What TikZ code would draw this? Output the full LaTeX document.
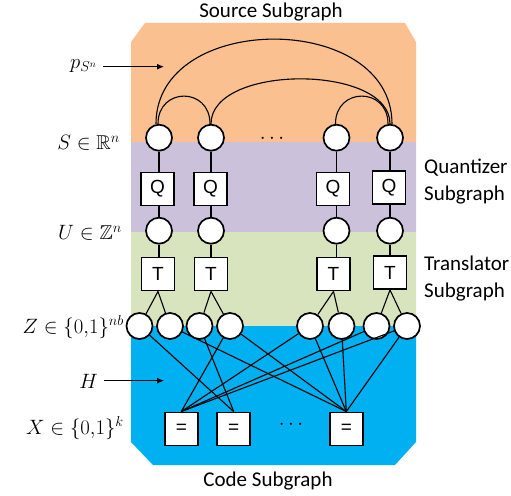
\documentclass[tikz,border=0pt]{standalone}
\usepackage{amssymb}
\usepackage{fontspec}
\setmainfont{Carlito}
\newfontfamily\boxfont{Liberation Sans}
\usetikzlibrary{arrows.meta}
\definecolor{srcband}{HTML}{FAC090}
\definecolor{quantband}{HTML}{CCC1DA}
\definecolor{transband}{HTML}{D7E4BD}
\definecolor{codeband}{HTML}{00B0F0}
\tikzset{
  varnode/.style={circle, draw, fill=white, minimum size=26pt, inner sep=0pt, line width=1.7pt},
  facnode/.style={draw, fill=white, minimum size=33pt, inner sep=0pt, line width=1.9pt,
    font=\boxfont\fontsize{19}{21}\selectfont},
  edge/.style={line width=1.1pt},
  arc/.style={line width=1.1pt},
  varlabel/.style={anchor=east, inner sep=0pt, font=\fontsize{20}{22}\selectfont},
  bandlabel/.style={font=\fontsize{21}{27}\selectfont, align=left, inner sep=0pt},
  pointer/.style={line width=1pt, -{Latex[length=7pt,width=6pt]}},
}
\begin{document}
\begin{tikzpicture}[x=1pt,y=-1pt]
\useasboundingbox (0,0) rectangle (511,495);

% coloured bands inside the chamfered frame
\begin{scope}
  \clip (131,42) -- (145,23) -- (405,23) -- (416,42) -- (416,442) -- (395,465)
        -- (153,465) -- (131,442) -- cycle;
  \fill[srcband]   (120,15)  rectangle (420,142);
  \fill[quantband] (120,142) rectangle (420,232);
  \fill[transband] (120,232) rectangle (420,326);
  \fill[codeband]  (120,326) rectangle (420,470);
\end{scope}

% band titles
\node[bandlabel] (tsrc) at (271,12) {Source Subgraph};
\node[bandlabel] (tcode) at (268,481) {Code Subgraph};
\node[bandlabel, anchor=west] (tquant) at (424,182) {Quantizer\\Subgraph};
\node[bandlabel, anchor=west] (ttrans) at (424,279) {Translator\\Subgraph};

% source variables
\node[varnode] (S1) at (159,137.7) {};
\node[varnode] (S2) at (211,137.7) {};
\node[varnode] (S3) at (336.5,137.7) {};
\node[varnode] (S4) at (390,137.7) {};
\node[font=\fontsize{20}{22}\selectfont] (sdots) at (272,139) {$\cdots$};

% quantizers
\node[facnode] (Q1) at (157.5,189) {Q};
\node[facnode] (Q2) at (210.5,189) {Q};
\node[facnode] (Q3) at (333,189) {Q};
\node[facnode] (Q4) at (389,187.5) {Q};

% quantized variables
\node[varnode] (U1) at (159,230.7) {};
\node[varnode] (U2) at (211,230.7) {};
\node[varnode] (U3) at (336.5,230.7) {};
\node[varnode] (U4) at (390,230.7) {};

% translators
\node[facnode] (T1) at (158,274) {T};
\node[facnode] (T2) at (211,274) {T};
\node[facnode] (T3) at (333.5,274) {T};
\node[facnode] (T4) at (390,272.5) {T};

% binary variables
\node[varnode] (Z1) at (139.5,326) {};
\node[varnode] (Z2) at (170,326) {};
\node[varnode] (Z3) at (199.5,326) {};
\node[varnode] (Z4) at (230,326) {};
\node[varnode] (Z5) at (310,326) {};
\node[varnode] (Z6) at (341.5,326) {};
\node[varnode] (Z7) at (376.5,326) {};
\node[varnode] (Z8) at (407,326) {};

% code equality checks
\node[facnode] (E1) at (181.3,429) {=};
\node[facnode] (E2) at (233.7,429) {=};
\node[facnode] (E3) at (346.3,429) {=};
\node[font=\fontsize{20}{22}\selectfont] (edots) at (291,425) {$\cdots$};

% source dependencies
\draw[arc] ([xshift=-3pt]S1.north) .. controls +(0,-113) and +(0,-113) .. ([xshift=2pt]S4.north);
\draw[arc] (S2.north) .. controls +(0,-60) and +(0,-60) .. (S4.north);
\draw[arc] ([xshift=-1pt]S1.north) .. controls +(0,-37) and +(0,-37) .. ([xshift=-1pt]S2.north);
\draw[arc] ([xshift=-1pt]S3.north) .. controls +(0,-37) and +(0,-37) .. ([xshift=-2pt]S4.north);

% vertical chains S - Q - U - T
\foreach \i in {1,2,3,4} {
  \draw[edge] (S\i.south) -- (S\i.south |- Q\i.north);
  \draw[edge] (Q\i.south -| U\i) -- (U\i.north);
  \draw[edge] (U\i.south) -- (U\i.south |- T\i.north);
}

% translators to binary variables
\draw[edge] (T1.south) -- (Z1);
\draw[edge] (T1.south) -- (Z2);
\draw[edge] (T2.south) -- (Z3);
\draw[edge] (T2.south) -- (Z4);
\draw[edge] (T3.south) -- (Z5);
\draw[edge] (T3.south) -- (Z6);
\draw[edge] (T4.south) -- (Z7);
\draw[edge] (T4.south) -- (Z8);

% code graph
\foreach \z in {4,5,7,8} \draw[edge] (Z\z) -- (E1.north);
\foreach \z in {1,3} \draw[edge] (Z\z) -- (E2.north);
\foreach \z in {2,4,5,6,8} \draw[edge] (Z\z) -- (E3.north);

% variable labels
\node[varlabel] (lp) at (97,66) {$p_{S^n}$};
\node[varlabel] (ls) at (120,143) {$S\in\mathbb{R}^n$};
\node[varlabel] (lu) at (122,233) {$U\in\mathbb{Z}^n$};
\node[varlabel] (lz) at (124,327) {$Z\in\{0{,}1\}^{nb}$};
\node[varlabel] (lh) at (98,381) {$H$};
\node[varlabel] (lx) at (124,428) {$X\in\{0{,}1\}^{k}$};

\coordinate (pTip) at (164,66.7);
\coordinate (hTip) at (164,380.7);
\draw[pointer] ([xshift=6pt]lp.east |- pTip) -- (pTip);
\draw[pointer] ([xshift=6pt]lh.east |- hTip) -- (hTip);
\end{tikzpicture}
\end{document}
